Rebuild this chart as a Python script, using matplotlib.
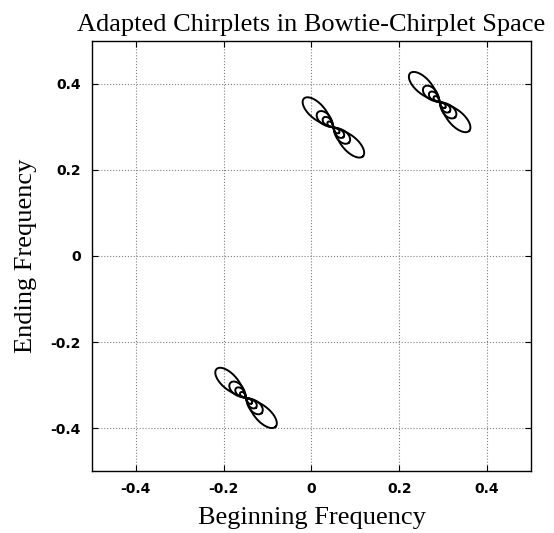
import numpy as np
import matplotlib.pyplot as plt

# centri dei chirplet adattati (frequenza iniziale, frequenza finale)
begin_freq = [0.050, 0.292, -0.149]
end_freq = [0.299, 0.358, -0.330]

# forma del bowtie: semi-lunghezza e larghezza dei lobi (contorni annidati)
lobe_length = [0.095, 0.050, 0.032, 0.018]
lobe_width = [0.050, 0.036, 0.024, 0.014]
angle = -45.0  # orientamento in gradi

ticks = [-0.4, -0.2, 0, 0.2, 0.4]
tick_labels = ['-0.4', '-0.2', '0', '0.2', '0.4']


def bowtie(cx, cy, L, W, ang):
    t = np.linspace(0, 2 * np.pi, 400)
    d = 1 + np.sin(t) ** 2
    u = L * np.cos(t) / d
    v = W * np.sin(t) * np.cos(t) / d
    a = np.deg2rad(ang)
    x = cx + u * np.cos(a) - v * np.sin(a)
    y = cy + u * np.sin(a) + v * np.cos(a)
    return x, y


fig = plt.figure(figsize=(5.54, 5.33), dpi=100)
ax = fig.add_axes([0.166, 0.1163, 0.7924, 0.8068])

for cx, cy in zip(begin_freq, end_freq):
    for L, W in zip(lobe_length, lobe_width):
        x, y = bowtie(cx, cy, L, W, angle)
        ax.plot(x, y, color='black', lw=1.4)

ax.set_xlim(-0.5, 0.5)
ax.set_ylim(-0.5, 0.5)
ax.set_xticks(ticks)
ax.set_yticks(ticks)
ax.set_xticklabels(tick_labels)
ax.set_yticklabels(tick_labels)
ax.grid(True, linestyle=':', color='gray', lw=0.8)
ax.tick_params(direction='in', top=True, right=True, length=4, labelsize=10, pad=8)
for lab in ax.get_xticklabels() + ax.get_yticklabels():
    lab.set_fontweight('bold')
    lab.set_family('DejaVu Sans')
for s in ax.spines.values():
    s.set_linewidth(1.0)

serif = 'Liberation Serif'
ax.set_title('Adapted Chirplets in Bowtie-Chirplet Space', family=serif, fontsize=19, pad=7)
ax.set_xlabel('Beginning Frequency', family=serif, fontsize=19, labelpad=8)
ax.set_ylabel('Ending Frequency', family=serif, fontsize=19, labelpad=10)

fig.savefig('out.png', dpi=100)
